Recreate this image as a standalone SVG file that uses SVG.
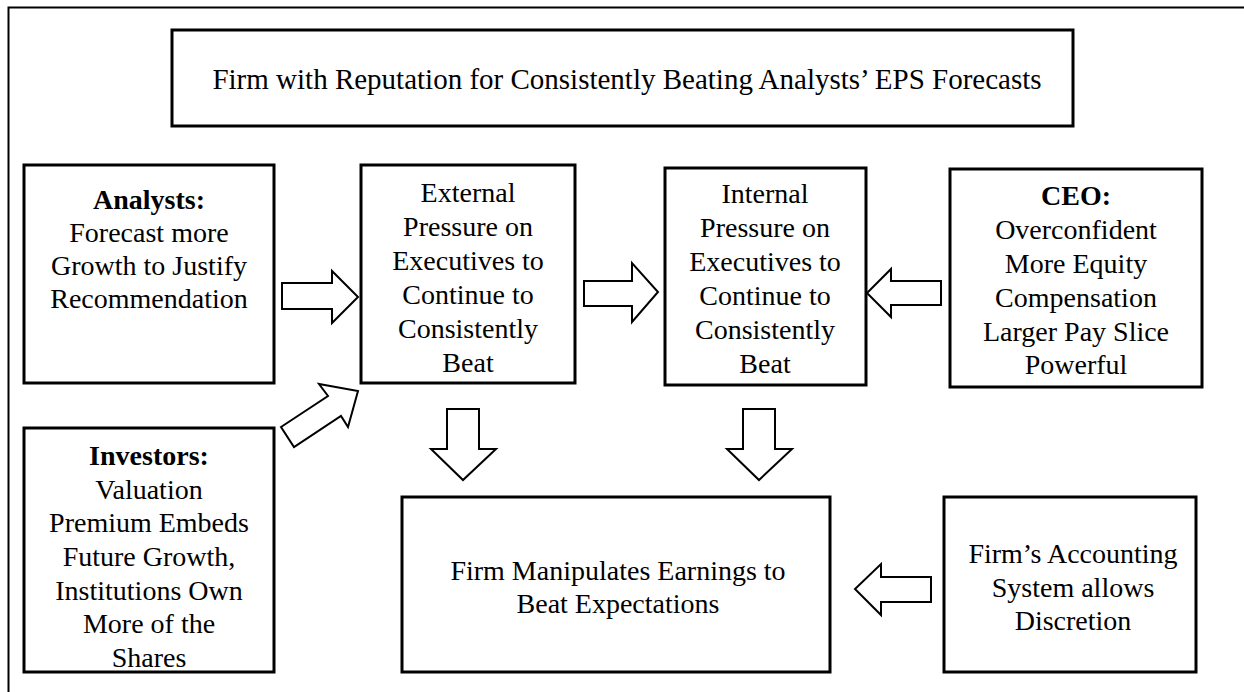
<svg xmlns="http://www.w3.org/2000/svg" width="1244" height="692" viewBox="0 0 1244 692">
<style>
.box{fill:#fff;stroke:#000;stroke-width:3}
.arr{fill:#fff;stroke:#000;stroke-width:2;stroke-linejoin:miter}
text{font-family:"Liberation Serif","Times New Roman",serif;font-size:28px;fill:#000;text-anchor:middle}
.b{font-weight:bold}
</style>
<rect width="1244" height="692" fill="#fff"/>
<path d="M8.5,692 V7.5 H1244" fill="none" stroke="#000" stroke-width="2"/>

<g id="top">
<rect class="box" x="172" y="30" width="901" height="96"/>
<text x="627" y="89" style="font-size:29px">Firm with Reputation for Consistently Beating Analysts’ EPS Forecasts</text>
</g>

<g id="analysts">
<rect class="box" x="24" y="165" width="250" height="218"/>
<text x="149" y="209" class="b">Analysts:</text>
<text x="149" y="242">Forecast more</text>
<text x="149" y="275">Growth to Justify</text>
<text x="149" y="308">Recommendation</text>
</g>

<g id="external">
<rect class="box" x="361" y="165" width="214" height="218"/>
<text x="468" y="202">External</text>
<text x="468" y="236">Pressure on</text>
<text x="468" y="270">Executives to</text>
<text x="468" y="304">Continue to</text>
<text x="468" y="338">Consistently</text>
<text x="468" y="372">Beat</text>
</g>

<g id="internal">
<rect class="box" x="665" y="168" width="201" height="217"/>
<text x="765" y="203">Internal</text>
<text x="765" y="237">Pressure on</text>
<text x="765" y="271">Executives to</text>
<text x="765" y="305">Continue to</text>
<text x="765" y="339">Consistently</text>
<text x="765" y="373">Beat</text>
</g>

<g id="ceo">
<rect class="box" x="950" y="169" width="252" height="218"/>
<text x="1076" y="205" class="b">CEO:</text>
<text x="1076" y="239">Overconfident</text>
<text x="1076" y="273">More Equity</text>
<text x="1076" y="307">Compensation</text>
<text x="1076" y="341">Larger Pay Slice</text>
<text x="1076" y="374">Powerful</text>
</g>

<g id="investors">
<rect class="box" x="24" y="428" width="250" height="244"/>
<text x="149" y="465" class="b">Investors:</text>
<text x="149" y="499">Valuation</text>
<text x="149" y="532">Premium Embeds</text>
<text x="149" y="566">Future Growth,</text>
<text x="149" y="600">Institutions Own</text>
<text x="149" y="633">More of the</text>
<text x="149" y="667">Shares</text>
</g>

<g id="manipulates">
<rect class="box" x="402" y="497" width="428" height="175"/>
<text x="618" y="580">Firm Manipulates Earnings to</text>
<text x="618" y="613">Beat Expectations</text>
</g>

<g id="accounting">
<rect class="box" x="944" y="497" width="252" height="175"/>
<text x="1073" y="563">Firm’s Accounting</text>
<text x="1073" y="597">System allows</text>
<text x="1073" y="630">Discretion</text>
</g>

<g id="connectors">
<polygon class="arr" points="282,283 332,283 332,271 358,297 332,323 332,309 282,309"/>
<polygon class="arr" points="584,281 632,281 632,263 658,292 632,322 632,306 584,306"/>
<polygon class="arr" points="941,281 891,281 891,269 867,293 891,317 891,305 941,305"/>
<polygon class="arr" points="931,577 881,577 881,564 855,589 881,615 881,602 931,602"/>
<polygon class="arr" points="447,409 479,409 479,449 496,449 463,480 431,449 447,449"/>
<polygon class="arr" points="743,409 775,409 775,449 792,449 759,480 727,449 743,449"/>
<polygon class="arr" points="281,427 328,396 319,384 358,391 348,427 341,416 294,447"/>
</g>
</svg>
